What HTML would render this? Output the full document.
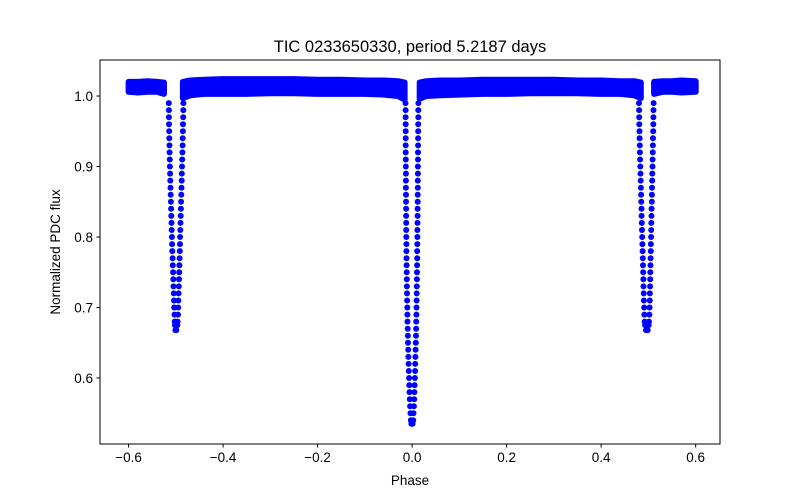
<!DOCTYPE html>
<html><head><meta charset="utf-8"><style>
body{margin:0;background:#fff;}
svg{display:block;font-family:"Liberation Sans","DejaVu Sans",sans-serif;}
</style></head><body>
<svg id="chart" width="800" height="500" viewBox="0 0 800 500">
<rect width="800" height="500" fill="#fff"/>
<text x="410" y="52" font-size="16.5" text-anchor="middle">TIC 0233650330, period 5.2187 days</text>
<g id="marks"></g>
<rect x="100" y="60" width="620" height="384" fill="none" stroke="#000" stroke-width="1"/>
<g id="xticks"></g>
<g id="yticks"></g>
<text x="410" y="485" font-size="13.5" text-anchor="middle">Phase</text>
<text x="60" y="252" font-size="13.5" text-anchor="middle" transform="rotate(-90 60 252)">Normalized PDC flux</text>
</svg>
<script>
const xTicks = [-0.6,-0.4,-0.2,0.0,0.2,0.4,0.6];
const xTickLabels = ["\u22120.6","\u22120.4","\u22120.2","0.0","0.2","0.4","0.6"];
const yTicks = [0.6,0.7,0.8,0.9,1.0];
const yTickLabels = ["0.6","0.7","0.8","0.9","1.0"];

const seg1Phase = [-0.6,-0.58,-0.56,-0.54,-0.525];
const seg1Top = [1.020,1.020,1.021,1.020,1.019];
const seg1Bot = [1.006,1.005,1.006,1.006,1.003];
const seg2Phase = [-0.485,-0.47,-0.44,-0.4,-0.35,-0.3,-0.25,-0.2,-0.15,-0.1,-0.06,-0.03,-0.016];
const seg2Top = [1.020,1.022,1.023,1.024,1.024,1.024,1.024,1.023,1.023,1.022,1.022,1.021,1.019];
const seg2Bot = [0.997,1.001,1.003,1.003,1.003,1.004,1.004,1.003,1.003,1.003,1.002,1.000,0.995];
const seg3Phase = [0.016,0.03,0.06,0.1,0.15,0.2,0.25,0.3,0.35,0.4,0.44,0.47,0.484];
const seg3Top = [1.019,1.021,1.022,1.022,1.023,1.023,1.023,1.023,1.022,1.022,1.021,1.021,1.019];
const seg3Bot = [0.996,1.000,1.001,1.002,1.003,1.003,1.004,1.004,1.004,1.003,1.003,1.001,0.997];
const seg4Phase = [0.512,0.53,0.55,0.57,0.6];
const seg4Top = [1.020,1.021,1.021,1.022,1.021];
const seg4Bot = [1.003,1.006,1.006,1.005,1.006];

const primFlux = [0.99,0.98,0.97,0.96,0.95,0.94,0.93,0.92,0.91,0.90,0.89,0.88,0.87,0.86,0.85,0.84,0.83,0.82,0.81,0.80,0.79,0.78,0.77,0.76,0.75,0.74,0.73,0.72,0.71,0.70,0.69,0.68,0.67,0.66,0.65,0.64,0.63,0.62,0.61,0.60,0.59,0.58,0.57,0.56,0.55,0.54,0.535];
const primLeft = [-0.0140,-0.0139,-0.0138,-0.0137,-0.0137,-0.0136,-0.0135,-0.0135,-0.0134,-0.0133,-0.0132,-0.0131,-0.0131,-0.0130,-0.0129,-0.0128,-0.0127,-0.0126,-0.0125,-0.0124,-0.0122,-0.0121,-0.0119,-0.0117,-0.0115,-0.0113,-0.0111,-0.0108,-0.0106,-0.0103,-0.0100,-0.0097,-0.0094,-0.0090,-0.0087,-0.0083,-0.0079,-0.0075,-0.0070,-0.0065,-0.0060,-0.0055,-0.0049,-0.0043,-0.0035,-0.0025,-0.0015];
const primRight = [0.0132,0.0131,0.0130,0.0129,0.0128,0.0127,0.0126,0.0125,0.0124,0.0123,0.0122,0.0121,0.0120,0.0118,0.0117,0.0116,0.0115,0.0114,0.0112,0.0111,0.0110,0.0108,0.0107,0.0105,0.0103,0.0101,0.0099,0.0097,0.0095,0.0092,0.0090,0.0087,0.0084,0.0081,0.0078,0.0074,0.0070,0.0066,0.0062,0.0058,0.0053,0.0048,0.0043,0.0037,0.0030,0.0022,0.0010];

const secFlux = [0.99,0.98,0.97,0.96,0.95,0.94,0.93,0.92,0.91,0.90,0.89,0.88,0.87,0.86,0.85,0.84,0.83,0.82,0.81,0.80,0.79,0.78,0.77,0.76,0.75,0.74,0.73,0.72,0.71,0.70,0.69,0.68,0.675,0.668];
const secLL = [-0.5150,-0.5148,-0.5146,-0.5144,-0.5141,-0.5138,-0.5135,-0.5132,-0.5128,-0.5125,-0.5121,-0.5117,-0.5113,-0.5109,-0.5105,-0.5101,-0.5097,-0.5092,-0.5088,-0.5083,-0.5079,-0.5074,-0.5069,-0.5064,-0.5059,-0.5054,-0.5049,-0.5044,-0.5039,-0.5034,-0.5029,-0.5024,-0.5018,-0.5010];
const secLR = [-0.4840,-0.4842,-0.4845,-0.4848,-0.4851,-0.4854,-0.4858,-0.4861,-0.4865,-0.4869,-0.4873,-0.4877,-0.4881,-0.4885,-0.4889,-0.4893,-0.4897,-0.4901,-0.4905,-0.4909,-0.4913,-0.4917,-0.4921,-0.4925,-0.4929,-0.4933,-0.4937,-0.4941,-0.4945,-0.4950,-0.4955,-0.4962,-0.4970,-0.4990];
const secRL = [0.4800,0.4802,0.4805,0.4808,0.4811,0.4814,0.4818,0.4821,0.4825,0.4829,0.4833,0.4837,0.4841,0.4845,0.4849,0.4853,0.4857,0.4861,0.4865,0.4869,0.4873,0.4877,0.4881,0.4885,0.4889,0.4893,0.4897,0.4901,0.4905,0.4910,0.4915,0.4922,0.4930,0.4950];
const secRR = [0.5110,0.5108,0.5106,0.5104,0.5101,0.5098,0.5095,0.5092,0.5089,0.5086,0.5083,0.5080,0.5077,0.5074,0.5071,0.5068,0.5065,0.5062,0.5059,0.5056,0.5053,0.5050,0.5047,0.5044,0.5041,0.5038,0.5035,0.5032,0.5029,0.5025,0.5020,0.5013,0.5005,0.4985];

const NS = "http://www.w3.org/2000/svg";
const X0 = 100, X1 = 720, Y0 = 60, Y1 = 444;
const xMin = -0.6605, xMax = 0.6515, yMin = 0.5064, yMax = 1.0511;
function xs(v){ return X0 + (v - xMin) / (xMax - xMin) * (X1 - X0); }
function ys(v){ return Y1 - (v - yMin) / (yMax - yMin) * (Y1 - Y0); }

const marks = document.getElementById('marks');
const blue = "#0000ff";

function band(ph, top, bot, name){
  const pts = [];
  for (let i = 0; i < ph.length; i++) pts.push(xs(ph[i]).toFixed(1) + "," + ys(top[i]).toFixed(1));
  for (let i = ph.length - 1; i >= 0; i--) pts.push(xs(ph[i]).toFixed(1) + "," + ys(bot[i]).toFixed(1));
  const p = document.createElementNS(NS, 'polygon');
  p.setAttribute('points', pts.join(' '));
  p.setAttribute('fill', blue);
  p.setAttribute('stroke', blue);
  p.setAttribute('stroke-width', '6');
  p.setAttribute('stroke-linejoin', 'round');
  
  
  marks.appendChild(p);
}
band(seg1Phase, seg1Top, seg1Bot, 'baseline-band-1');
band(seg2Phase, seg2Top, seg2Bot, 'baseline-band-2');
band(seg3Phase, seg3Top, seg3Bot, 'baseline-band-3');
band(seg4Phase, seg4Top, seg4Bot, 'baseline-band-4');

function dots(ph, fl, name){
  const n = Math.min(ph.length, fl.length);
  for (let i = 0; i < n; i++){
    const c = document.createElementNS(NS, 'circle');
    c.setAttribute('cx', xs(ph[i]).toFixed(1));
    c.setAttribute('cy', ys(fl[i]).toFixed(1));
    c.setAttribute('r', '3');
    c.setAttribute('fill', blue);
    
    
    marks.appendChild(c);
  }
}
dots(primLeft, primFlux, 'primary-eclipse-point');
dots(primRight, primFlux, 'primary-eclipse-point');
dots(secLL, secFlux, 'secondary-eclipse-point');
dots(secLR, secFlux, 'secondary-eclipse-point');
dots(secRL, secFlux, 'secondary-eclipse-point');
dots(secRR, secFlux, 'secondary-eclipse-point');

const xg = document.getElementById('xticks');
xTicks.forEach((t, i) => {
  const x = xs(t);
  const l = document.createElementNS(NS, 'line');
  l.setAttribute('x1', x); l.setAttribute('x2', x);
  l.setAttribute('y1', Y1); l.setAttribute('y2', Y1 + 3.5);
  l.setAttribute('stroke', '#000');
  
  
  xg.appendChild(l);
  const tx = document.createElementNS(NS, 'text');
  tx.setAttribute('x', x); tx.setAttribute('y', Y1 + 18);
  tx.setAttribute('font-size', '13.5');
  tx.setAttribute('text-anchor', 'middle');
  tx.textContent = xTickLabels[i];
  
  
  xg.appendChild(tx);
});
const yg = document.getElementById('yticks');
yTicks.forEach((t, i) => {
  const y = ys(t);
  const l = document.createElementNS(NS, 'line');
  l.setAttribute('x1', X0 - 3.5); l.setAttribute('x2', X0);
  l.setAttribute('y1', y); l.setAttribute('y2', y);
  l.setAttribute('stroke', '#000');
  
  
  yg.appendChild(l);
  const tx = document.createElementNS(NS, 'text');
  tx.setAttribute('x', X0 - 7); tx.setAttribute('y', y + 5);
  tx.setAttribute('font-size', '13.5');
  tx.setAttribute('text-anchor', 'end');
  tx.textContent = yTickLabels[i];
  
  
  yg.appendChild(tx);
});
</script>
</body></html>
